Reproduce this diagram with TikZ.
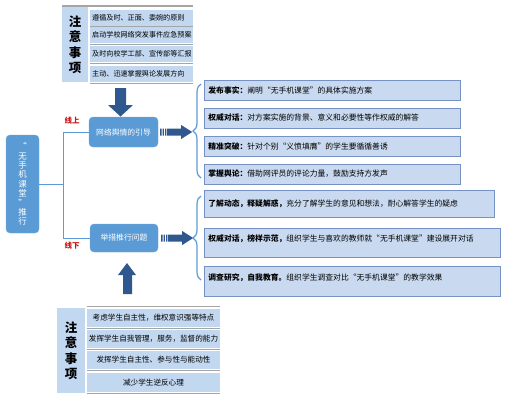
\documentclass[tikz,border=0pt]{standalone}
\usepackage{fontspec}
\setmainfont{Noto Sans CJK SC}
\usetikzlibrary{positioning,calc,decorations.pathreplacing}
\definecolor{nodeblue}{RGB}{91,155,213}
\definecolor{arrowblue}{RGB}{47,88,143}
\definecolor{cellblue}{RGB}{194,215,240}
\definecolor{boxfill}{RGB}{200,217,240}
\definecolor{boxline}{RGB}{118,146,196}
\definecolor{sepgray}{RGB}{165,165,165}
\definecolor{tagred}{RGB}{200,20,20}
\tikzset{stripe arrow/.pic={
  \fill[arrowblue] (0,-3.5) rectangle (1.3,3.5) (2.4,-3.5) rectangle (3.7,3.5) (4.8,-3.5) rectangle (6.1,3.5);
  \fill[arrowblue] (7,-3.5) -- (21,-3.5) -- (21,-7) -- (32,0) -- (21,7) -- (21,3.5) -- (7,3.5) -- cycle;
}}

\begin{document}
\begin{tikzpicture}[x=1pt,y=-1pt,font=\fontsize{7.8}{9}\selectfont,
  keybox/.style={rounded corners=4pt, fill=nodeblue, draw=nodeblue!85!white, text=white,
    minimum width=69, minimum height=30, inner sep=0},
  notehead/.style={fill=cellblue, minimum width=26, align=center, inner sep=0,
    font=\bfseries\fontsize{12.5}{15.5}\selectfont},
  notecell/.style={fill=cellblue, minimum width=103, minimum height=16, inner xsep=2pt, inner ysep=0,
    text width=99, align=left, font=\fontsize{7.1}{8}\selectfont},
  lowcell/.style={fill=cellblue, minimum width=133, inner sep=0, font=\fontsize{7.6}{8}\selectfont},
  sepline/.style={draw=sepgray, line width=1.2pt},
  infobox/.style={fill=boxfill, draw=boxline, line width=0.8pt, anchor=west, inner xsep=4pt, align=left},
  tag/.style={text=tagred, font=\bfseries\fontsize{7.5}{9}\selectfont, inner sep=1pt},
  link/.style={draw=nodeblue, line width=1pt},
  bracket/.style={draw=nodeblue, line width=1.2pt, decorate, decoration={brace, amplitude=8pt}}]
  \useasboundingbox (0,0) rectangle (508,400);

  % top notes
  \node[notehead, minimum height=75] (topnote) at (75,44.5) {注\\意\\事\\项};
  \node[notecell, anchor=west] (t1) at (90,17.5) {遵循及时、正面、委婉的原则};
  \node[notecell, anchor=west] (t2) at (90,35) {启动学校网络突发事件应急预案};
  \node[notecell, anchor=west] (t3) at (90,54) {及时向校学工部、宣传部等汇报};
  \node[notecell, anchor=west] (t4) at (90,74) {主动、迅速掌握舆论发展方向};
  \draw[sepline] (62,6) -- (193,6);
  \foreach \c in {t1,t2,t3,t4}
    \draw[sepline] ([yshift=-1pt]\c.south west) -- ([yshift=-1pt]\c.south east);

  % main flow
  \node[keybox, minimum width=33, minimum height=98, align=center, font=\fontsize{8.5}{9.4}\selectfont]
    (root) at (22.5,184) {“\\无\\手\\机\\课\\堂\\”\\推\\行};
  \node[keybox] (guide) at (123.5,132) {网络舆情的引导};
  \node[keybox, minimum width=68, minimum height=28] (plan) at (124,238) {举措推行问题};
  \node[tag] (online) at (72,121) {线上};
  \node[tag] (offline) at (72,246) {线下};
  \coordinate (fork) at (63,184);
  \draw[link] (root.east) -- (fork) |- (guide.west);
  \draw[link] (fork) |- (plan.west);
  \fill[arrowblue] (115,88) -- (126,88) -- (126,105) -- (133,105) -- (120.5,116.5) -- (108,105) -- (115,105) -- cycle;
  \fill[arrowblue] (123,294) -- (132,294) -- (132,275) -- (136,275) -- (127,263) -- (118,275) -- (123,275) -- cycle;
  \pic at ([xshift=2pt]guide.east) {stripe arrow};
  \pic at ([xshift=3pt]plan.east) {stripe arrow};

  % online measures
  \draw[bracket] (201,178) -- (201,84);
  \node[infobox, text width=248, minimum height=20] (f1) at (204,90) {\textbf{发布事实：}阐明“无手机课堂”的具体实施方案};
  \node[infobox, text width=248, minimum height=20] (f2) at (204,118) {\textbf{权威对话：}对方案实施的背景、意义和必要性等作权威的解答};
  \node[infobox, text width=248, minimum height=20] (f3) at (204,146.5) {\textbf{精准突破：}针对个别“义愤填膺”的学生要循循善诱};
  \node[infobox, text width=248, minimum height=20] (f4) at (204,174) {\textbf{掌握舆论：}借助网评员的评论力量，鼓励支持方发声};

  % offline measures
  \draw[bracket] (201,280) -- (201,196);
  \node[infobox, text width=282, inner ysep=0, text height=16pt, text depth=11pt] (g1) at (204,203.5) {\textbf{了解动态，释疑解惑，}充分了解学生的意见和想法，耐心解答学生的疑虑};
  \node[infobox, text width=288, inner ysep=0, text height=13pt, text depth=16pt] (g2) at (204,242.5) {\textbf{权威对话，榜样示范，}组织学生与喜欢的教师就“无手机课堂”建设展开对话};
  \node[infobox, text width=288, inner ysep=0, text height=14pt, text depth=16pt] (g3) at (204,281) {\textbf{调查研究，自我教育。}组织学生调查对比“无手机课堂”的教学效果};

  % bottom notes
  \node[notehead, minimum width=28, minimum height=85] (lownote) at (71,350.5) {注\\意\\事\\项};
  \node[lowcell, minimum height=18] (c1) at (153.5,318) {考虑学生自主性，维权意识强等特点};
  \node[lowcell, minimum height=18] (c2) at (153.5,339) {发挥学生自我管理，服务，监督的能力};
  \node[lowcell, minimum height=18] (c3) at (153.5,360) {发挥学生自主性、参与性与能动性};
  \node[lowcell, minimum height=19] (c4) at (153.5,382.5) {减少学生逆反心理};
  \draw[sepline] (c1.north west) ++(0,-2) -- ++(133,0);
  \foreach \c in {c1,c2,c3,c4}
    \draw[sepline] ([yshift=-1pt]\c.south west) -- ([yshift=-1pt]\c.south east);
\end{tikzpicture}
\end{document}
